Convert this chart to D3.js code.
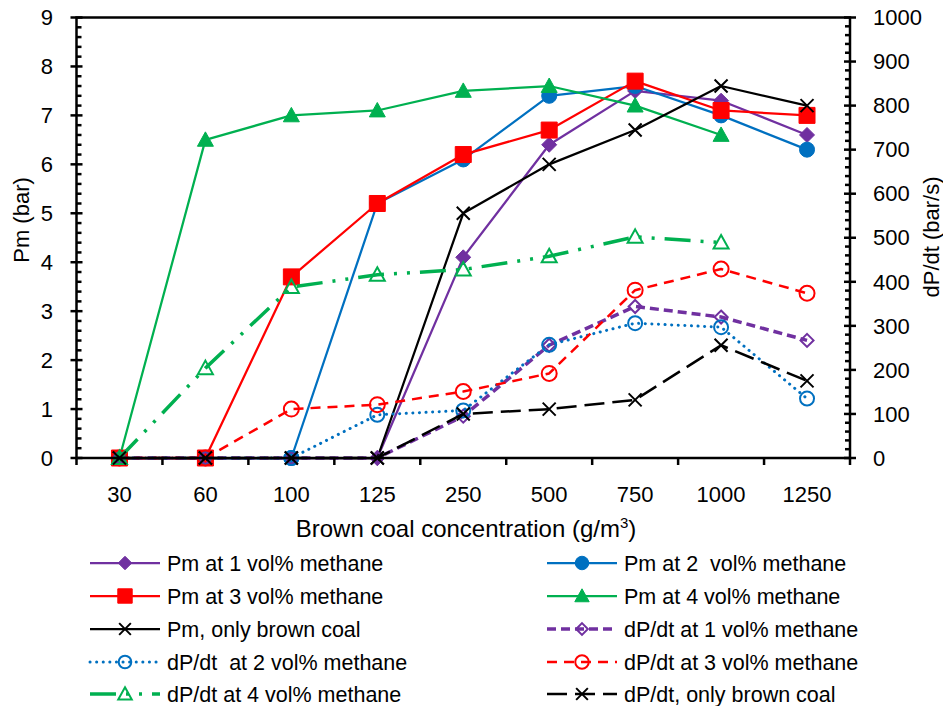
<!DOCTYPE html>
<html>
<head>
<meta charset="utf-8">
<script src="https://cdn.jsdelivr.net/npm/d3@7"></script>
<style>
  body { margin: 0; background: #fff; }
  svg { display: block; }
  text { font-family: "Liberation Sans", Arial, sans-serif; fill: #000; white-space: pre; }
</style>
</head>
<body>
<svg id="chart" width="943" height="706"></svg>
<script>
// 데이터
const categories = ["30", "60", "100", "125", "250", "500", "750", "1000", "1250"];
const pm1    = [0, 0, 0, 0, 4.1, 6.4, 7.5, 7.3, 6.6];
const pm2    = [0, 0, 0, 5.2, 6.1, 7.4, 7.6, 7.0, 6.3];
const pm3    = [0, 0, 3.7, 5.2, 6.2, 6.7, 7.7, 7.1, 7.0];
const pm4    = [0, 6.5, 7.0, 7.1, 7.5, 7.6, 7.2, 6.6, null];
const pmCoal = [0, 0, 0, 0, 5.0, 6.0, 6.7, 7.6, 7.2];
const dp1    = [0, 0, 0, 0, 95, 256, 344, 320, 267];
const dp2    = [0, 0, 0, 98, 108, 257, 306, 297, 135];
const dp3    = [0, 0, 111, 121, 151, 192, 381, 429, 374];
const dp4    = [0, 204, 388, 416, 428, 458, 502, 489, null];
const dpCoal = [0, 0, 0, 0, 100, 111, 132, 256, 175];
const leftTicks = [0, 1, 2, 3, 4, 5, 6, 7, 8, 9];
const rightTicks = [0, 100, 200, 300, 400, 500, 600, 700, 800, 900, 1000];

const L = 76.5, R = 850, T = 17.5, B = 458;
const svg = d3.select("#chart");

const x = d3.scaleBand().domain(categories).range([L, R]).padding(0);
const cx = c => x(c) + x.bandwidth() / 2;
const yL = d3.scaleLinear().domain([0, 9]).range([B, T]);
const yR = d3.scaleLinear().domain([0, 1000]).range([B, T]);

// 시리즈 정의 (순서 = 그리는 순서)
const series = [
  { name: "Pm at 1 vol% methane", vals: pm1, axis: "L", color: "#7030A0", w: 2.25, dash: null, mk: "diamond", fill: true, sz: 15 },
  { name: "Pm at 2  vol% methane", vals: pm2, axis: "L", color: "#0070C0", w: 2.25, dash: null, mk: "circle", fill: true, sz: 15 },
  { name: "Pm at 3 vol% methane", vals: pm3, axis: "L", color: "#FF0000", w: 2.25, dash: null, mk: "square", fill: true, sz: 16 },
  { name: "Pm at 4 vol% methane", vals: pm4, axis: "L", color: "#00B050", w: 2.25, dash: null, mk: "triangle", fill: true, sz: 16 },
  { name: "Pm, only brown coal", vals: pmCoal, axis: "L", color: "#000000", w: 2.25, dash: null, mk: "x", fill: false, sz: 13 },
  { name: "dP/dt at 1 vol% methane", vals: dp1, axis: "R", color: "#7030A0", w: 3.5, dash: "9 5", mk: "diamond", fill: false, sz: 13 },
  { name: "dP/dt  at 2 vol% methane", vals: dp2, axis: "R", color: "#0070C0", w: 3, dash: "0.1 6.5", cap: "round", mk: "circle", fill: false, sz: 14 },
  { name: "dP/dt at 3 vol% methane", vals: dp3, axis: "R", color: "#FF0000", w: 2.5, dash: "10 7", mk: "circle", fill: false, sz: 15 },
  { name: "dP/dt at 4 vol% methane", vals: dp4, axis: "R", color: "#00B050", w: 3.5, dash: "26 10 3 10 3 10", mk: "triangle", fill: false, sz: 15 },
  { name: "dP/dt, only brown coal", vals: dpCoal, axis: "R", color: "#000000", w: 2.5, dash: "20 8", mk: "x", fill: false, sz: 13 }
];

function markerPath(type, s) {
  const h = s / 2;
  if (type === "diamond") return `M0,${-h}L${h},0L0,${h}L${-h},0Z`;
  if (type === "square") return `M${-h},${-h}H${h}V${h}H${-h}Z`;
  if (type === "triangle") return `M0,${-h}L${h},${h * 0.8}L${-h},${h * 0.8}Z`;
  if (type === "x") return `M${-h},${-h}L${h},${h}M${h},${-h}L${-h},${h}`;
  return d3.arc()({ innerRadius: 0, outerRadius: h, startAngle: 0, endAngle: 2 * Math.PI });
}

function drawMarker(g, s, px, py, scale) {
  const sz = s.sz * (scale || 1);
  const p = g.append("path").attr("d", markerPath(s.mk, sz))
    .attr("transform", `translate(${px},${py})`);
  if (s.mk === "x") {
    p.attr("fill", "none").attr("stroke", s.color).attr("stroke-width", 2);
  } else if (s.fill) {
    p.attr("fill", s.color).attr("stroke", s.color).attr("stroke-width", 1);
  } else {
    p.attr("fill", "none").attr("stroke", s.color).attr("stroke-width", 2);
  }
}

// 선 + 마커
const plot = svg.append("g");
series.forEach(s => {
  const y = s.axis === "L" ? yL : yR;
  const pts = categories.map((c, i) => ({ c, v: s.vals[i] })).filter(d => d.v !== null);
  const line = d3.line().x(d => cx(d.c)).y(d => y(d.v));
  plot.append("path").attr("d", line(pts))
    .attr("fill", "none").attr("stroke", s.color).attr("stroke-width", s.w)
    .attr("stroke-dasharray", s.dash).attr("stroke-linecap", s.cap || "butt")
    .attr("stroke-linejoin", "round");
  pts.forEach(d => drawMarker(plot, s, cx(d.c), y(d.v)));
});

// 축
const ax = svg.append("g").attr("stroke", "#000");
ax.append("rect").attr("x", L).attr("y", T).attr("width", R - L).attr("height", B - T)
  .attr("fill", "none").attr("stroke-width", 2.5);

// 아래쪽 눈금 (범주 경계)
d3.range(categories.length + 1).forEach(i => {
  const xx = L + i * x.bandwidth();
  ax.append("line").attr("x1", xx).attr("x2", xx).attr("y1", B).attr("y2", B + 7).attr("stroke-width", 2.5);
});

// 왼쪽 축 눈금
d3.range(0, 9.001, 0.2).forEach(v => {
  const yy = yL(v);
  const major = Math.abs(v - Math.round(v)) < 1e-6;
  ax.append("line").attr("x1", major ? L - 6 : L).attr("x2", L + (major ? 6 : 5))
    .attr("y1", yy).attr("y2", yy).attr("stroke-width", 2.5);
});
// 오른쪽 축 눈금
d3.range(0, 1000.01, 20).forEach(v => {
  const yy = yR(v);
  const major = v % 100 === 0;
  ax.append("line").attr("x1", R - (major ? 6 : 5)).attr("x2", major ? R + 6 : R)
    .attr("y1", yy).attr("y2", yy).attr("stroke-width", 2.5);
});

svg.selectAll(".lt").data(leftTicks).join("text").attr("class", "lt")
  .attr("x", 53).attr("y", d => yL(d)).attr("dy", "0.35em")
  .attr("text-anchor", "end").attr("font-size", 22).text(d => d);
svg.selectAll(".rt").data(rightTicks).join("text").attr("class", "rt")
  .attr("x", 873).attr("y", d => yR(d)).attr("dy", "0.35em")
  .attr("font-size", 22).text(d => d);
svg.selectAll(".bt").data(categories).join("text").attr("class", "bt")
  .attr("x", d => cx(d)).attr("y", 494).attr("dy", "0.35em")
  .attr("text-anchor", "middle").attr("font-size", 22).text(d => d);

// 축 제목
const xt = svg.append("text").attr("x", 466).attr("y", 537).attr("text-anchor", "middle").attr("font-size", 24);
xt.append("tspan").text("Brown coal concentration (g/m");
xt.append("tspan").attr("font-size", 15).attr("dy", -9).text("3");
xt.append("tspan").attr("dy", 9).text(")");

svg.append("text").attr("transform", "translate(21,220) rotate(-90)")
  .attr("text-anchor", "middle").attr("dy", "0.35em").attr("font-size", 22).text("Pm (bar)");
svg.append("text").attr("transform", "translate(931,237) rotate(-90)")
  .attr("text-anchor", "middle").attr("dy", "0.35em").attr("font-size", 22).text("dP/dt (bar/s)");

// 범례 (2열, 행 우선)
const legRows = [563, 596, 629, 662, 694];
const legCols = [90, 547];
const leg = svg.append("g");
series.forEach((s, i) => {
  const col = i % 2, row = Math.floor(i / 2);
  const x0 = legCols[col], yy = legRows[row];
  leg.append("line").attr("x1", x0).attr("x2", x0 + 70).attr("y1", yy).attr("y2", yy)
    .attr("stroke", s.color).attr("stroke-width", s.w)
    .attr("stroke-dasharray", s.dash).attr("stroke-linecap", s.cap || "butt");
  drawMarker(leg, s, x0 + 35, yy, 0.9);
  leg.append("text").attr("x", x0 + 77).attr("y", yy).attr("dy", "0.35em")
    .attr("font-size", 21.5).text(s.name);
});
</script>
</body>
</html>
